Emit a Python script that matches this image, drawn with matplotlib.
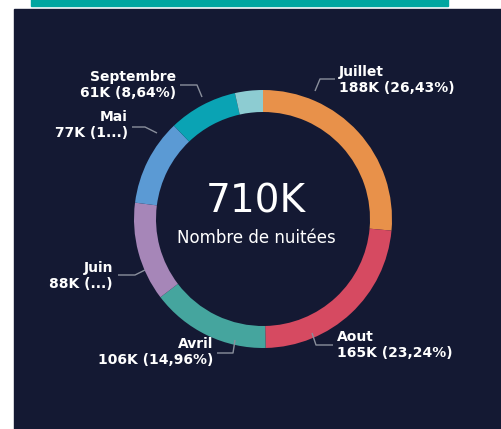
import matplotlib
matplotlib.use("Agg")
import matplotlib.pyplot as plt
from matplotlib.patches import Rectangle

# data
months = ["Juillet", "Aout", "Avril", "Juin", "Mai", "Septembre", "Autre"]
values = [187.7, 165.0, 106.2, 88.0, 77.0, 61.3, 24.8]
value_labels = ["188K (26,43%)", "165K (23,24%)", "106K (14,96%)",
                "88K (...)", "77K (1...)", "61K (8,64%)", ""]
total_label = "710K"
subtitle = "Nombre de nuitées"

colors = ["#E8914A", "#D64A61", "#45A59E", "#A686B8", "#5B9AD4", "#0AA3B4", "#8DCCD2"]
navy = "#141933"

W, H = 501, 429
CX, CY, R = 263, 219, 129


def px(x, y):
    # pixel position -> data coords (centre of donut = 0,0 ; radius = 1)
    return (x - CX) / R, (CY - y) / R


fig = plt.figure(figsize=(W / 100, H / 100), dpi=100)
fig.patch.set_facecolor("white")
ax = fig.add_axes([0, 0, 1, 1])

ax.pie(values, colors=colors, startangle=90, counterclock=False, radius=1,
       wedgeprops=dict(width=22 / R, linewidth=0), center=(0, 0))

ax.set_xlim(px(0, 0)[0], px(W, 0)[0])
ax.set_ylim(px(0, H)[1], px(0, 0)[1])
ax.set_aspect("equal")
ax.axis("off")

# background panel + teal bar on top
x0, y0 = px(14, 429)
x1, y1 = px(501, 9)
ax.add_patch(Rectangle((x0, y0), x1 - x0, y1 - y0, color=navy, zorder=0))
bx0, by0 = px(31, 6)
bx1, by1 = px(448, -2)
ax.add_patch(Rectangle((bx0, by0), bx1 - bx0, by1 - by0, color="#00A6A0", zorder=0))

ax.text(*px(256, 202), total_label, color="white", fontsize=28,
        ha="center", va="center")
ax.text(*px(256, 238), subtitle, color="white", fontsize=12,
        ha="center", va="center")

# leader lines: start, elbow, end, text x, text y, side
layout = [
    ((315, 91), (320, 79), (335, 79), 339, 80, "left"),
    ((312, 333), (316, 345), (333, 345), 337, 345, "left"),
    ((235, 340), (233, 353), (217, 353), 213, 352, "right"),
    ((145, 270), (135, 275), (118, 275), 113, 276, "right"),
    ((157, 133), (145, 127), (132, 127), 128, 125, "right"),
    ((202, 97), (197, 85), (180, 85), 176, 85, "right"),
]

for i, (s, e, f, tx, ty, side) in enumerate(layout):
    pts = [px(*s), px(*e), px(*f)]
    ax.plot([p[0] for p in pts], [p[1] for p in pts], color="#8A8F9C",
            lw=1, solid_capstyle="butt", zorder=3)
    ax.text(*px(tx, ty), months[i] + "\n" + value_labels[i], color="white",
            fontsize=10, fontweight="bold", ha=side, va="center",
            multialignment=side, linespacing=1.2)

fig.savefig("out.png", dpi=100, facecolor="white")
